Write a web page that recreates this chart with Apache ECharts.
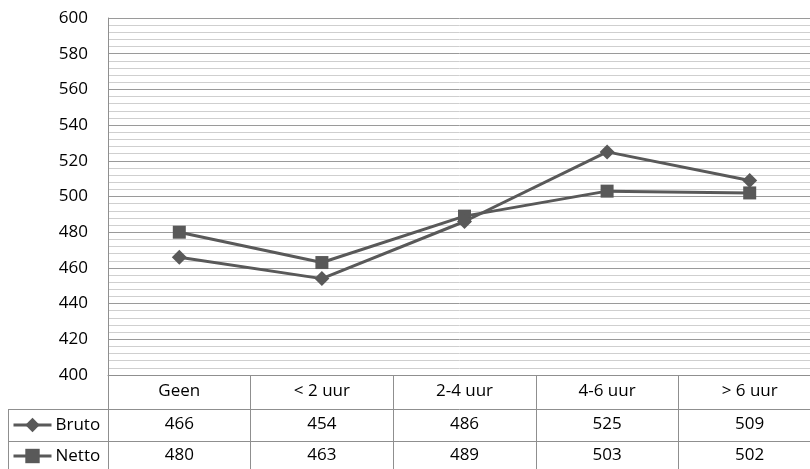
<!DOCTYPE html>
<html>
<head>
<meta charset="utf-8">
<script src="https://cdn.jsdelivr.net/npm/echarts@6/dist/echarts.min.js"></script>
<style>html,body{margin:0;padding:0;background:#fff}#c{width:810px;height:469px}</style>
</head>
<body>
<div id="c"></div>
<script>
const categories = ['Geen', '< 2 uur', '2-4 uur', '4-6 uur', '> 6 uur'];
const bruto = [466, 454, 486, 525, 509];
const netto = [480, 463, 489, 503, 502];
const seriesNames = ['Bruto', 'Netto'];
const yMin = 400, yMax = 600, yStep = 20;

const font = '"Open Sans", "Noto Sans", sans-serif';
const lineCol = '#595959';
const gridCol = '#8f8f8f';
const txt = { color: '#000', fontSize: 17, fontFamily: font };

const chart = echarts.init(document.getElementById('c'), null, { renderer: 'canvas' });

function rowAxis(offset, margin, formatter, ticks) {
  return {
    type: 'category', data: categories, position: 'bottom', offset: offset,
    boundaryGap: true,
    axisLine: { show: true, lineStyle: { color: gridCol, width: 1 } },
    axisTick: ticks ? { show: true, interval: 0, length: 94, alignWithLabel: false, lineStyle: { color: gridCol, width: 1 } } : { show: false },
    axisLabel: Object.assign({ margin: margin, interval: 0, formatter: formatter }, txt),
    splitLine: { show: false }
  };
}

function legendRow(name, top) {
  return {
    orient: 'horizontal', left: 12, top: top, itemWidth: 38, itemHeight: 18,
    data: [name], selectedMode: false, padding: 0,
    lineStyle: { width: 3 },
    textStyle: Object.assign({ lineHeight: 18, padding: [0, 0, 0, -1] }, txt)
  };
}

chart.setOption({
  animation: false,
  backgroundColor: '#fff',
  grid: { left: 108, top: 18, width: 713, height: 357, containLabel: false, outerBoundsMode: 'none' },
  legend: [legendRow(seriesNames[0], 416), legendRow(seriesNames[1], 447)],
  xAxis: [
    rowAxis(0, 8, (v) => v, true),
    rowAxis(34, 7, (v, i) => String(bruto[i]), false),
    rowAxis(66, 6, (v, i) => String(netto[i]), false)
  ],
  yAxis: {
    type: 'value', min: yMin, max: yMax, interval: yStep,
    axisLine: { show: true, lineStyle: { color: gridCol, width: 1 } },
    axisTick: { show: false },
    axisLabel: Object.assign({ margin: 20 }, txt),
    splitLine: { show: true, lineStyle: { color: '#9a9a9a', width: 1 } },
    minorTick: { show: false, splitNumber: 5 },
    minorSplitLine: { show: true, lineStyle: { color: '#cfcfcf', width: 1 } }
  },
  series: [
    {
      name: seriesNames[0], type: 'line', data: bruto, xAxisIndex: 0,
      symbol: 'diamond', symbolSize: 15,
      lineStyle: { color: lineCol, width: 3 },
      itemStyle: { color: lineCol },
      z: 3
    },
    {
      name: seriesNames[1], type: 'line', data: netto, xAxisIndex: 0,
      symbol: 'rect', symbolSize: 13,
      lineStyle: { color: lineCol, width: 3 },
      itemStyle: { color: lineCol },
      z: 2
    }
  ],
  graphic: [
    { type: 'line', shape: { x1: 8, y1: 409.5, x2: 108, y2: 409.5 }, style: { stroke: gridCol, lineWidth: 1 } },
    { type: 'line', shape: { x1: 8, y1: 441.5, x2: 108, y2: 441.5 }, style: { stroke: gridCol, lineWidth: 1 } },
    { type: 'line', shape: { x1: 8.5, y1: 409, x2: 8.5, y2: 469 }, style: { stroke: gridCol, lineWidth: 1 } }
  ]
});
</script>
</body>
</html>
